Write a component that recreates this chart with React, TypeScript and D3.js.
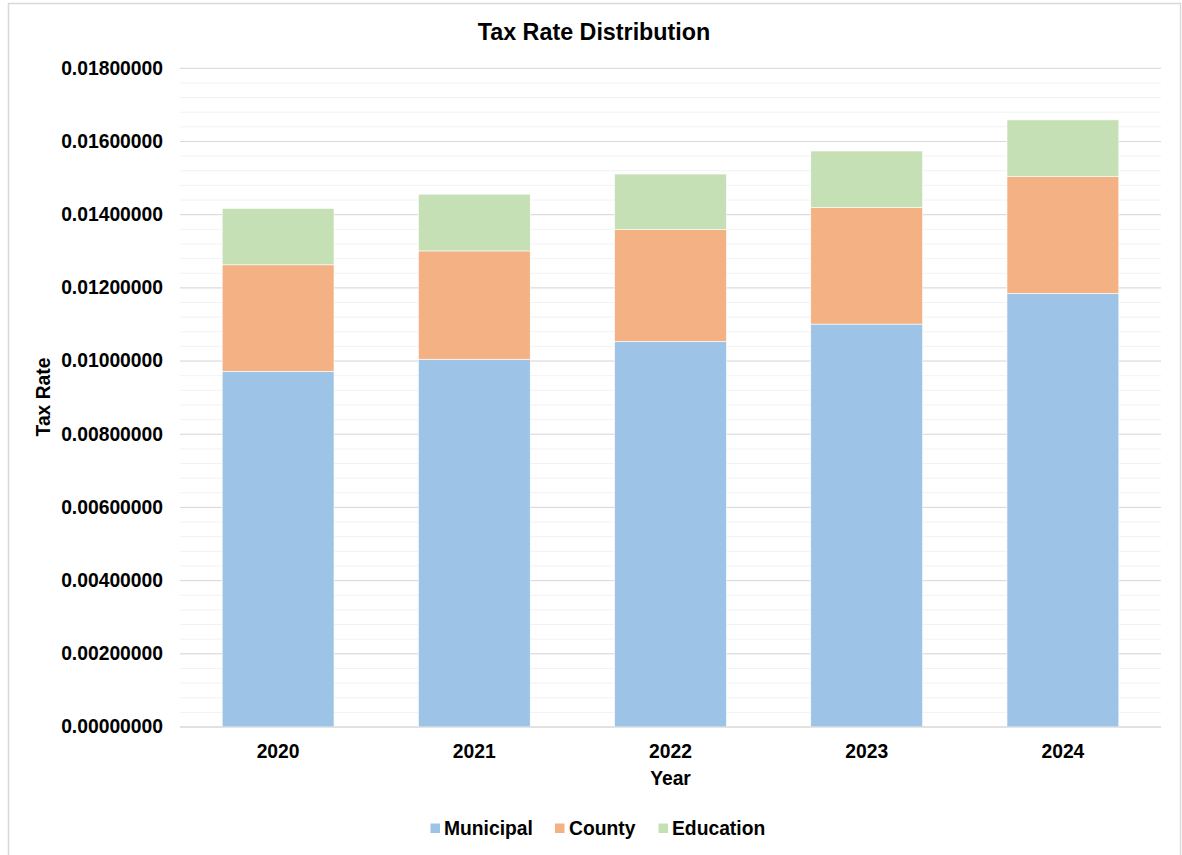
import React from "react";
import * as d3 from "d3";

const years = ["2020", "2021", "2022", "2023", "2024"];
const municipal = [0.00972, 0.01005, 0.01054, 0.01101, 0.01185];
const county = [0.00291, 0.00296, 0.00305, 0.00319, 0.0032];
const education = [0.00154, 0.00155, 0.00152, 0.00154, 0.00154];
const seriesNames = ["Municipal", "County", "Education"];
const seriesColors = ["#9dc3e6", "#f4b183", "#c5e0b4"];
const majorTicks = [0, 0.002, 0.004, 0.006, 0.008, 0.01, 0.012, 0.014, 0.016, 0.018];

const W = 1182;
const H = 855;
const left = 180;
const right = 1161;
const top = 68.3;
const bottom = 727;
const FONT = "'Liberation Sans', Arial, sans-serif";
const FS = 19.3;

export default function App() {
  const x = d3.scaleBand<string>().domain(years).range([left, right]).paddingInner(0.43).paddingOuter(0.215);
  const y = d3.scaleLinear().domain([0, 0.018]).range([bottom, top]);
  const rows = years.map((yr, i) => ({ year: yr, Municipal: municipal[i], County: county[i], Education: education[i] }));
  const stacked = d3.stack<any>().keys(seriesNames)(rows);
  const minorTicks = d3.range(0, 0.0180001, 0.0004);

  const legendItems = [
    { name: "Municipal", sq: 430.5, tx: 444 },
    { name: "County", sq: 555, tx: 569 },
    { name: "Education", sq: 658.5, tx: 672 },
  ];

  return (
    <svg width={W} height={H} style={{ position: "absolute", left: 0, top: 0, background: "#fff" }} fontFamily={FONT}>
      <rect x={8.5} y={3.5} width={1172} height={H + 10} fill="#fff" stroke="#d9d9d9" strokeWidth={1.5} />
      {minorTicks.map((t, i) => (
        <line key={"m" + i} x1={left} x2={right} y1={y(t)} y2={y(t)} stroke="#f2f2f2" strokeWidth={1} />
      ))}
      {majorTicks.map((t, i) => (
        <line key={"g" + i} x1={left} x2={right} y1={y(t)} y2={y(t)} stroke="#d9d9d9" strokeWidth={1} />
      ))}
      {majorTicks.map((t, i) => (
        <text key={"t" + i} x={163} y={y(t)} dy="0.33em" textAnchor="end" fontSize={FS} fontWeight="bold" fill="#000">
          {t.toFixed(8)}
        </text>
      ))}
      {stacked.map((s, si) =>
        s.map((d, i) => (
          <rect
            key={si + "-" + i}
            x={x(years[i])}
            width={x.bandwidth()}
            y={y(d[1])}
            height={y(d[0]) - y(d[1])}
            fill={seriesColors[si]}
            stroke="#fff"
            strokeWidth={0.6}
          />
        ))
      )}
      <line x1={left} x2={right} y1={y(0)} y2={y(0)} stroke="#d9d9d9" strokeWidth={1} />
      {years.map((yr) => (
        <text key={yr} x={(x(yr) as number) + x.bandwidth() / 2} y={758} textAnchor="middle" fontSize={FS} fontWeight="bold">
          {yr}
        </text>
      ))}
      <text x={670.5} y={785} textAnchor="middle" fontSize={FS} fontWeight="bold">Year</text>
      <text transform="translate(50,397) rotate(-90)" textAnchor="middle" fontSize={FS} fontWeight="bold">Tax Rate</text>
      <text x={594} y={39.5} textAnchor="middle" fontSize={23.3} fontWeight="bold">Tax Rate Distribution</text>
      {legendItems.map((l, i) => (
        <g key={l.name}>
          <rect x={l.sq} y={823.5} width={9.5} height={9.5} fill={seriesColors[i]} />
          <text x={l.tx} y={835} fontSize={FS} fontWeight="bold">{l.name}</text>
        </g>
      ))}
    </svg>
  );
}
